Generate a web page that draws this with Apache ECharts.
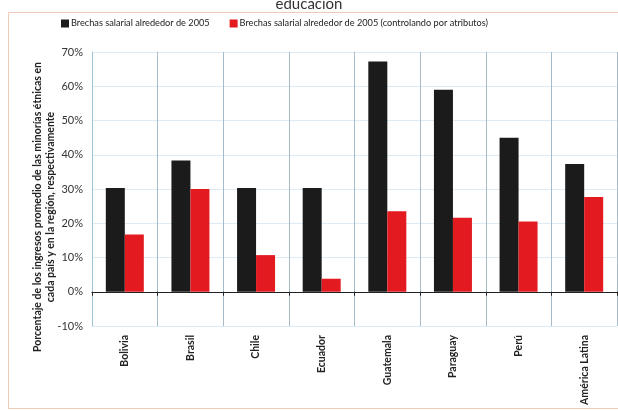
<!DOCTYPE html>
<html>
<head>
<meta charset="utf-8">
<script src="https://cdn.jsdelivr.net/npm/echarts@6/dist/echarts.min.js"></script>
<style>
html, body { margin: 0; padding: 0; background: #fff; }
#main { width: 618px; height: 411px; }
</style>
</head>
<body>
<div id="main"></div>
<script>
// datos
var paises = ['Bolivia', 'Brasil', 'Chile', 'Ecuador', 'Guatemala', 'Paraguay', 'Perú', 'América Latina'];
var brecha2005 = [30.3, 38.3, 30.3, 30.3, 67.2, 59.0, 45.0, 37.3];
var brechaAtributos = [16.7, 30.0, 10.7, 3.8, 23.5, 21.6, 20.5, 27.7];
var ticksY = [-10, 0, 10, 20, 30, 40, 50, 60, 70];

var fuente = 'Lato, "Open Sans", sans-serif';
var myChart = echarts.init(document.getElementById('main'));

myChart.setOption({
	animation : false,
	title : {
		text : 'educación',
		left : 'center',
		top : -8,
		textStyle : { fontFamily : fuente, fontSize : 15, fontWeight : 'normal', color : '#333' }
	},
	legend : {
		left : 56,
		top : 14,
		itemWidth : 8,
		itemHeight : 8,
		itemGap : 20,
		icon : 'rect',
		textStyle : { fontFamily : fuente, fontSize : 9.2, color : '#222', padding : [0, 0, 0, -3] },
		data : ['Brechas salarial alrededor de 2005', 'Brechas salarial alrededor de 2005 (controlando por atributos)']
	},
	graphic : [ {
		type : 'rect',
		shape : { x : 8.5, y : 12.5, width : 620, height : 396 },
		style : { fill : 'none', stroke : '#f1c9b9', lineWidth : 1 },
		silent : true
	}, {
		type : 'text',
		x : 44,
		y : 207,
		rotation : Math.PI / 2,
		style : {
			text : 'Porcentaje de los ingresos promedio de las minorías étnicas en\ncada país y en la región, respectivamente',
			font : 'bold 10.5px ' + fuente,
			fill : '#222',
			align : 'center',
			verticalAlign : 'middle',
			lineHeight : 13
		}
	} ],
	grid : {
		left : 92,
		top : 52,
		right : 1,
		bottom : 85
	},
	xAxis : [ {
		type : 'category',
		data : paises,
		axisLine : { onZero : true, lineStyle : { color : '#222', width : 1 } },
		axisTick : { show : true, interval : 0, length : 4, lineStyle : { color : '#222' } },
		axisLabel : { show : false },
		splitLine : { show : true, interval : 0, lineStyle : { color : '#a7bccb', width : 1 } }
	}, {
		type : 'category',
		data : paises,
		position : 'bottom',
		axisLine : { show : false, onZero : false },
		axisTick : { show : false },
		axisLabel : {
			rotate : 90,
			margin : 9,
			interval : 0,
			fontFamily : fuente,
			fontSize : 10.5,
			fontWeight : 'bold',
			color : '#222'
		}
	} ],
	yAxis : {
		type : 'value',
		min : ticksY[0],
		max : ticksY[ticksY.length - 1],
		interval : 10,
		axisLine : { show : true, lineStyle : { color : '#9cc3d8' } },
		axisTick : { show : false },
		axisLabel : {
			formatter : '{value}%',
			margin : 9,
			fontFamily : fuente,
			fontSize : 11,
			color : '#333'
		},
		splitLine : { show : true, lineStyle : { color : '#dcebf4' } }
	},
	series : [ {
		name : 'Brechas salarial alrededor de 2005',
		type : 'bar',
		xAxisIndex : 0,
		barWidth : 19,
		barGap : '0%',
		itemStyle : { color : '#1b1b1b' },
		data : brecha2005
	}, {
		name : 'Brechas salarial alrededor de 2005 (controlando por atributos)',
		type : 'bar',
		xAxisIndex : 0,
		barWidth : 19,
		barGap : '0%',
		itemStyle : { color : '#e31b20' },
		data : brechaAtributos
	} ]
});
</script>
</body>
</html>
